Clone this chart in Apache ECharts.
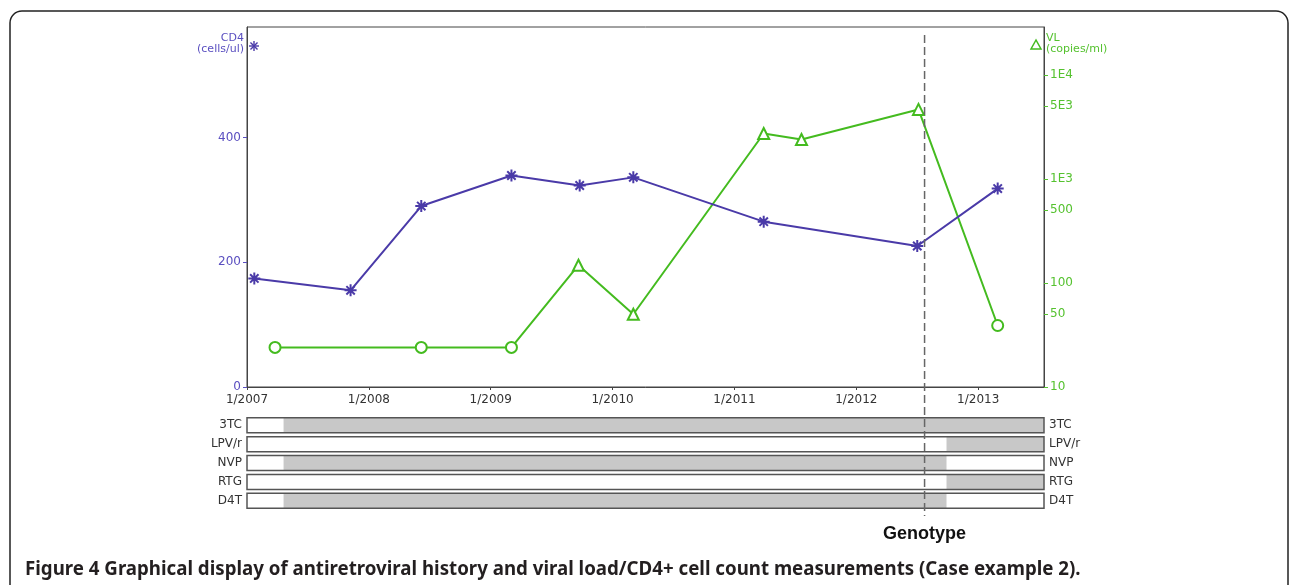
<!DOCTYPE html>
<html>
<head>
<meta charset="utf-8">
<script src="https://cdn.jsdelivr.net/npm/echarts@6/dist/echarts.min.js"></script>
<style>
  html, body { margin: 0; padding: 0; background: #fff; }
  #chart { width: 1290px; height: 585px; }
</style>
</head>
<body>
<div id="chart"></div>
<script>
// dates as decimal years
const xMin = 2007
const xMax = 2013.54
const yearTicks = [2007, 2008, 2009, 2010, 2011, 2012, 2013]

const cd4Dates = [2007.06, 2007.85, 2008.43, 2009.17, 2009.73, 2010.17, 2011.24, 2012.50, 2013.16]
const cd4Values = [174, 155, 290, 339, 323, 336, 265, 226, 318]
const cd4Ticks = [0, 200, 400]

const vlDates = [2007.23, 2008.43, 2009.17, 2009.72, 2010.17, 2011.24, 2011.55, 2012.51, 2013.16]
const vlValues = [24, 24, 24, 148, 50, 2730, 2390, 4650, 39]
// true = below detection (circle), false = measured (triangle)
const vlUndetect = [true, true, true, false, false, false, false, false, true]
const vlTickValues = [10, 50, 100, 500, 1000, 5000, 10000]
const vlTickLabels = ['10', '50', '100', '500', '1E3', '5E3', '1E4']

const drugNames = ['3TC', 'LPV/r', 'NVP', 'RTG', 'D4T']
const drugStarts = [2007.30, 2012.74, 2007.30, 2012.74, 2007.30]
const drugEnds = [2013.54, 2013.54, 2012.74, 2013.54, 2012.74]

const genotypeDate = 2012.56

const purple = '#4a3aa8'
const purpleText = '#5a4fc0'
const green = '#44bb1f'
const greenText = '#55c22f'
const asterisk = 'path://M0,-5L0,5M-5,0L5,0M-3.5,-3.5L3.5,3.5M-3.5,3.5L3.5,-3.5'

const chart = echarts.init(document.getElementById('chart'), null, { renderer: 'canvas' })

function drugRenderer(fill, stroke) {
  return function(params, api) {
    const s = api.coord([api.value(1), api.value(0)])
    const e = api.coord([api.value(2), api.value(0)])
    const h = 15
    return {
      type: 'rect',
      shape: { x: s[0], y: s[1] - h / 2, width: e[0] - s[0], height: h },
      style: { fill: fill, stroke: stroke, lineWidth: stroke ? 1.5 : 0 }
    }
  }
}

const option = {
  backgroundColor: '#fff',
  animation: false,
  textStyle: { fontFamily: 'DejaVu Sans' },
  grid: [
    { left: 247, right: 246, top: 27, height: 360, show: true, borderColor: '#444', borderWidth: 1, backgroundColor: 'transparent' },
    { left: 247, right: 246, top: 415.8, height: 94.5 }
  ],
  xAxis: [
    {
      type: 'value', gridIndex: 0, min: xMin, max: xMax, interval: 1,
      axisLine: { lineStyle: { color: '#444', width: 1 } },
      axisTick: { length: 3, lineStyle: { color: '#444' }, customValues: yearTicks },
      axisLabel: { color: '#333', fontSize: 12, margin: 7, customValues: yearTicks, formatter: v => '1/' + v },
      splitLine: { show: false }
    },
    { type: 'value', gridIndex: 1, min: xMin, max: xMax, show: false }
  ],
  yAxis: [
    {
      type: 'value', gridIndex: 0, position: 'left', min: 0, max: 577, interval: 200,
      axisLine: { show: true, lineStyle: { color: '#444' } },
      axisTick: { show: true, length: 4, lineStyle: { color: purpleText }, customValues: cd4Ticks },
      axisLabel: { color: purpleText, fontSize: 12, margin: 6, customValues: cd4Ticks },
      splitLine: { show: false }
    },
    {
      type: 'log', gridIndex: 0, position: 'right', min: 10, max: 28800, logBase: 10,
      axisLine: { show: true, lineStyle: { color: '#444' } },
      axisTick: { show: true, length: 4, inside: false, lineStyle: { color: greenText }, customValues: vlTickValues },
      axisLabel: {
        color: greenText, fontSize: 12, margin: 6, customValues: vlTickValues,
        formatter: v => { const i = vlTickValues.indexOf(Math.round(v)); return i >= 0 ? vlTickLabels[i] : '' }
      },
      splitLine: { show: false }
    },
    {
      type: 'category', gridIndex: 1, position: 'left', inverse: true, data: drugNames,
      axisLine: { show: false }, axisTick: { show: false },
      axisLabel: { color: '#333', fontSize: 12, margin: 5 }
    },
    {
      type: 'category', gridIndex: 1, position: 'right', inverse: true, data: drugNames,
      axisLine: { show: false }, axisTick: { show: false },
      axisLabel: { color: '#333', fontSize: 12, margin: 5 }
    }
  ],
  series: [
    {
      name: 'VL', type: 'line', xAxisIndex: 0, yAxisIndex: 1, z: 3,
      data: vlDates.map((d, i) => ({ value: [d, vlValues[i]], symbol: vlUndetect[i] ? 'emptyCircle' : 'emptyTriangle' })),
      symbolSize: 11, showAllSymbol: true,
      lineStyle: { color: green, width: 2 },
      itemStyle: { color: green, borderColor: green, borderWidth: 2 }
    },
    {
      name: 'CD4', type: 'line', xAxisIndex: 0, yAxisIndex: 0, z: 4,
      data: cd4Dates.map((d, i) => [d, cd4Values[i]]),
      symbol: asterisk, symbolSize: 12, showAllSymbol: true,
      lineStyle: { color: purple, width: 2 },
      itemStyle: { color: purple, borderColor: purple, borderWidth: 2 }
    },
    {
      name: 'drugFill', type: 'custom', xAxisIndex: 1, yAxisIndex: 2, z: 2,
      renderItem: drugRenderer('#c8c8c8', null),
      encode: { x: [1, 2], y: 0 },
      data: drugNames.map((n, i) => [i, drugStarts[i], drugEnds[i]])
    },
    {
      name: 'drugFrame', type: 'custom', xAxisIndex: 1, yAxisIndex: 2, z: 3,
      renderItem: drugRenderer('none', '#555'),
      encode: { x: [1, 2], y: 0 },
      data: drugNames.map((n, i) => [i, xMin, xMax])
    }
  ]
}

chart.setOption(option)

// genotype marker + axis titles, placed with the chart's own scale
const gx = chart.convertToPixel({ xAxisIndex: 0 }, genotypeDate)
function starLines(cx, cy, r, color) {
  const d = r * 0.707
  return {
    type: 'group', silent: true,
    children: [[0, -r, 0, r], [-r, 0, r, 0], [-d, -d, d, d], [-d, d, d, -d]].map(p => ({
      type: 'line',
      shape: { x1: cx + p[0], y1: cy + p[1], x2: cx + p[2], y2: cy + p[3] },
      style: { stroke: color, lineWidth: 1.4 }
    }))
  }
}
chart.setOption({
  graphic: [
    {
      type: 'rect', silent: true, z: -10,
      shape: { x: 10, y: 11, width: 1278, height: 620, r: 12 },
      style: { fill: 'none', stroke: '#222', lineWidth: 1.5 }
    },
    {
      type: 'line', silent: true, z: 10,
      shape: { x1: gx, y1: 35, x2: gx, y2: 516 },
      style: { stroke: '#666', lineWidth: 1.5, lineDash: [8, 4] }
    },
    {
      type: 'text', x: gx, y: 534,
      style: { text: 'Genotype', font: 'bold 18px "Liberation Sans"', fill: '#111', align: 'center', verticalAlign: 'middle' }
    },
    {
      type: 'text', x: 244, y: 38,
      style: { text: 'CD4', font: '11px "DejaVu Sans"', fill: purpleText, align: 'right', verticalAlign: 'middle' }
    },
    {
      type: 'text', x: 244, y: 49,
      style: { text: '(cells/ul)', font: '11px "DejaVu Sans"', fill: purpleText, align: 'right', verticalAlign: 'middle' }
    },
    starLines(254, 46, 5, purple),
    {
      type: 'text', x: 1046, y: 38,
      style: { text: 'VL', font: '11px "DejaVu Sans"', fill: greenText, align: 'left', verticalAlign: 'middle' }
    },
    {
      type: 'text', x: 1046, y: 49,
      style: { text: '(copies/ml)', font: '11px "DejaVu Sans"', fill: greenText, align: 'left', verticalAlign: 'middle' }
    },
    {
      type: 'polygon', silent: true,
      shape: { points: [[1036, 40], [1031, 49], [1041, 49]] },
      style: { stroke: green, lineWidth: 1.5, fill: 'none' }
    },
    {
      type: 'text', x: 25, y: 570,
      style: {
        text: 'Figure 4 Graphical display of antiretroviral history and viral load/CD4+ cell count measurements (Case example 2).',
        font: 'bold 18.7px "Noto Sans"', fill: '#231f20', align: 'left', verticalAlign: 'middle'
      }
    }
  ]
})
</script>
</body>
</html>
